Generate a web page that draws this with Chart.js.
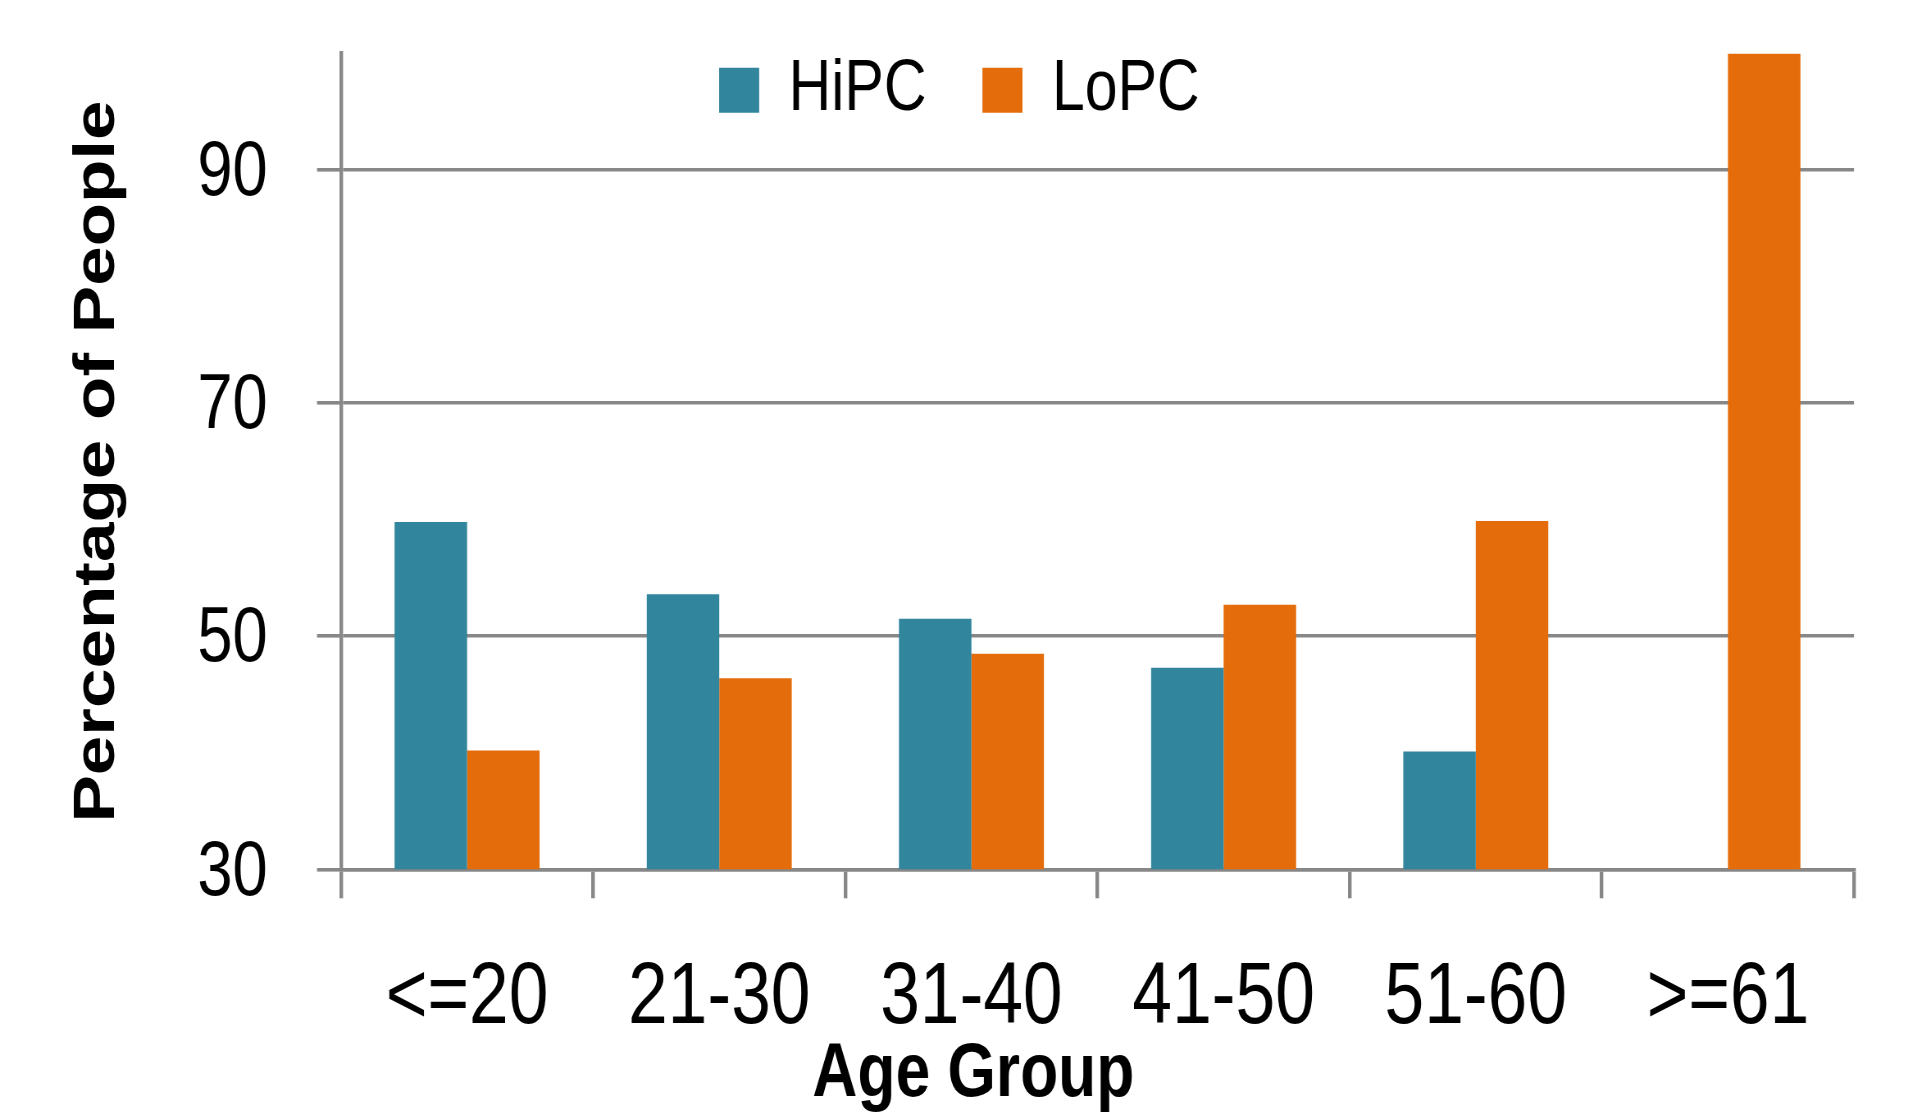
<!DOCTYPE html>
<html>
<head>
<meta charset="utf-8">
<script src="https://cdn.jsdelivr.net/npm/chart.js@4.4.1/dist/chart.umd.min.js"></script>
<style>
  html, body { margin: 0; padding: 0; background: #ffffff; }
  #wrap { width: 1908px; height: 1116px; position: relative; overflow: hidden; }
  #c { display: block; transform-origin: 0 0; }
</style>
</head>
<body>
<div id="wrap"><canvas id="c" width="2327" height="1116"></canvas></div>
<script>
// ---- data ----
const categories = ['<=20', '21-30', '31-40', '41-50', '51-60', '>=61'];
const seriesNames = ['HiPC', 'LoPC'];
const hipcValues = [59.8, 53.6, 51.5, 47.3, 40.1, 0];
const lopcValues = [40.2, 46.4, 48.5, 52.7, 59.9, 100];
const yTickValues = [30, 50, 70, 90];
const yTitle = 'Percentage of People';
const xTitle = 'Age Group';

// ---- styles ----
const TEAL = '#31859C';
const ORANGE = '#E46C0A';
const GRID = '#878787';
const TEXT = '#000000';
const FONT = '"Liberation Sans", Arial, sans-serif';

// The chart is drawn on a wider canvas and shown horizontally condensed
// (the reference uses narrow lettering, and no narrow font is installed).
const CANVAS_W = 2327;
const SQUEEZE = 1908 / CANVAS_W;
const X = v => v / SQUEEZE;   // display px -> canvas px (horizontal only)
document.getElementById('c').style.transform = 'scaleX(' + SQUEEZE + ')';

const PAD_LEFT = 79;
const PLOT_LEFT = X(341);
const PLOT_RIGHT = X(1854);

const boxTweaks = {
  id: 'boxTweaks',
  afterLayout(chart) {
    const l = chart.legend;
    if (l) { l.height = 130; l.bottom = l.top + 130; }
    const t = chart.titleBlock;
    if (t) { t.left += X(14); t.right += X(14); }
  }
};

new Chart(document.getElementById('c'), {
  type: 'bar',
  data: {
    labels: categories,
    datasets: [
      { label: seriesNames[0], data: hipcValues, backgroundColor: TEAL, borderWidth: 0, clip: 0 },
      { label: seriesNames[1], data: lopcValues, backgroundColor: ORANGE, borderWidth: 0, clip: 0 }
    ]
  },
  plugins: [boxTweaks],
  options: {
    responsive: false,
    animation: false,
    devicePixelRatio: 1,
    datasets: { bar: { categoryPercentage: 0.575, barPercentage: 1.0 } },
    layout: { padding: { left: PAD_LEFT, right: CANVAS_W - PLOT_RIGHT, top: -14, bottom: 0 } },
    plugins: {
      legend: {
        position: 'top',
        align: 'center',
        maxHeight: 67.6,
        labels: {
          font: { family: FONT, size: 72 },
          color: TEXT,
          boxWidth: X(40),
          boxHeight: 45,
          padding: X(56)
        }
      },
      title: {
        display: true,
        text: xTitle,
        position: 'bottom',
        color: TEXT,
        font: { family: FONT, size: 76, weight: 'bold', lineHeight: 1 },
        padding: { top: 0, bottom: 3 }
      },
      tooltip: { enabled: false }
    },
    scales: {
      x: {
        grid: { display: true, drawOnChartArea: false, drawTicks: true, tickLength: 29, color: GRID, lineWidth: X(3.6), offset: true },
        border: { display: true, color: GRID, width: 3.6 },
        ticks: { font: { family: FONT, size: 87 }, color: TEXT, padding: 49, maxRotation: 0, autoSkip: false },
        afterFit(s) { s.height = 167.7; s.paddingLeft = 0; s.paddingRight = 0; }
      },
      y: {
        min: 30,
        max: 100,
        afterBuildTicks(a) { a.ticks = yTickValues.map(v => ({ value: v })); },
        grid: { color: GRID, lineWidth: 3.6, tickLength: X(24), drawTicks: true },
        border: { display: true, color: GRID, width: X(3.6) },
        ticks: { font: { family: FONT, size: 77 }, color: TEXT, padding: PLOT_LEFT - X(24) - X(267.6), labelOffset: 4 },
        title: {
          display: true,
          text: yTitle,
          color: TEXT,
          font: { family: FONT, size: 71, weight: 'bold', lineHeight: 1 },
          padding: { top: X(98) - PAD_LEFT - 35.5, bottom: 0 }
        },
        afterFit(s) { s.width = PLOT_LEFT - PAD_LEFT; s.paddingTop = 0; s.paddingBottom = 0; }
      }
    }
  }
});
</script>
</body>
</html>
